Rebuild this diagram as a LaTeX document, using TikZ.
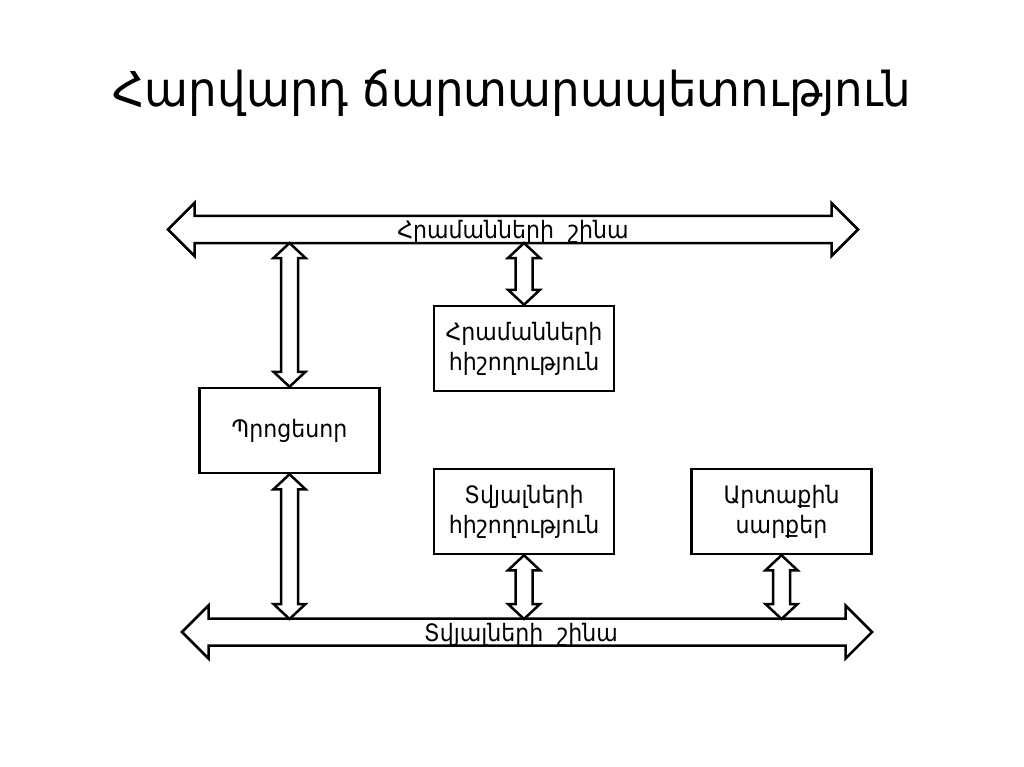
\documentclass[tikz,border=0pt]{standalone}
\usepackage{fontspec}
\setmainfont{DejaVu Sans}
\newfontfamily\titlefont[FakeStretch=0.94]{DejaVu Sans}
\newfontfamily\blockfont[FakeStretch=0.92]{DejaVu Sans}
\usetikzlibrary{calc}

% fat horizontal bus arrow between two tips
\newcommand\busarrow[2]{%
  \draw[fat] let \p1=(#1), \p2=(#2) in
    (\x1,\y1) -- (\x1+26.5pt,\y1+26.5pt) -- (\x1+26.5pt,\y1+13.5pt)
    -- (\x2-26.5pt,\y1+13.5pt) -- (\x2-26.5pt,\y1+26.5pt) -- (\x2,\y1)
    -- (\x2-26.5pt,\y1-26.5pt) -- (\x2-26.5pt,\y1-13.5pt)
    -- (\x1+26.5pt,\y1-13.5pt) -- (\x1+26.5pt,\y1-26.5pt) -- cycle;}

% fat vertical double arrow from top point to bottom point
\newcommand\linkarrow[2]{%
  \draw[fat] let \p1=(#1), \p2=(#2) in
    (\x1,\y1) -- (\x1+16pt,\y1-15pt) -- (\x1+8.5pt,\y1-15pt)
    -- (\x1+8.5pt,\y2+15pt) -- (\x1+16pt,\y2+15pt) -- (\x1,\y2)
    -- (\x1-16pt,\y2+15pt) -- (\x1-8.5pt,\y2+15pt)
    -- (\x1-8.5pt,\y1-15pt) -- (\x1-16pt,\y1-15pt) -- cycle;}

\begin{document}
\begin{tikzpicture}[x=1pt, y=-1pt,
  box/.style={draw, line width=2.5pt, minimum width=180pt, minimum height=85pt,
    align=center, inner sep=2pt, font=\blockfont\fontsize{24}{30}\selectfont},
  fat/.style={draw, line width=2.5pt, fill=white, line join=miter},
  buslabel/.style={anchor=base, inner sep=0pt, font=\blockfont\fontsize{24}{28}\selectfont}]

  \useasboundingbox (0,0) rectangle (1024,767);

  % Title
  \node[anchor=base, font=\titlefont\fontsize{48}{52}\selectfont] (title) at (512,107)
    {Հարվարդ ճարտարապետություն};

  % Buses
  \coordinate (ibusL) at (168,229.5);
  \coordinate (ibusR) at (858,229.5);
  \coordinate (ibusS) at (0,243);
  \coordinate (dbusL) at (182,632);
  \coordinate (dbusR) at (872,632);
  \coordinate (dbusN) at (0,619);
  \busarrow{ibusL}{ibusR}
  \busarrow{dbusL}{dbusR}
  \node[buslabel] (ibus) at (513,238) {Հրամանների\ \ շինա};
  \node[buslabel] (dbus) at (521,641) {Տվյալների\ \ շինա};

  % Blocks
  \node[box] (imem) at (524,348.5) {Հրամանների\\հիշողություն};
  \node[box] (proc) at (289.5,430.5) {Պրոցեսոր};
  \node[box] (dmem) at (524,511.5) {Տվյալների\\հիշողություն};
  \node[box] (ext)  at (781.5,511.5) {Արտաքին\\սարքեր};

  % Links to the buses
  \linkarrow{proc.north |- ibusS}{proc.north}
  \linkarrow{imem.north |- ibusS}{imem.north}
  \linkarrow{proc.south}{proc.south |- dbusN}
  \linkarrow{dmem.south}{dmem.south |- dbusN}
  \linkarrow{ext.south}{ext.south |- dbusN}

\end{tikzpicture}
\end{document}
